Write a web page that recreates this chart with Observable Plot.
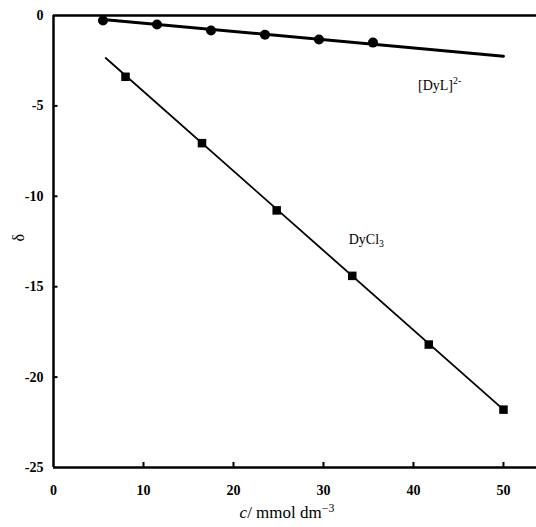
<!DOCTYPE html>
<html>
<head>
<meta charset="utf-8">
<script src="https://cdn.jsdelivr.net/npm/d3@7"></script>
<script src="https://cdn.jsdelivr.net/npm/@observablehq/plot@0.6"></script>
<style>
  html, body { margin: 0; padding: 0; background: #fff; }
  #chart svg { display: block; }
  #chart svg, #chart svg text { font-family: "Liberation Serif", "Times New Roman", serif !important; }
</style>
</head>
<body>
<div id="chart"></div>
<script>
// ---- data ----
const dylX = [5.5, 11.5, 17.5, 23.5, 29.5, 35.5];
const dylY = [-0.28, -0.5, -0.83, -1.06, -1.33, -1.5];
const dycl3X = [8, 16.5, 24.8, 33.2, 41.7, 50];
const dycl3Y = [-3.39, -7.06, -10.78, -14.4, -18.2, -21.8];
const dylFitX = [5.5, 50];
const dylFitY = [-0.22, -2.25];
const dycl3FitX = [5.8, 50];
const dycl3FitY = [-2.35, -21.8];
const xTicks = [0, 10, 20, 30, 40, 50];
const yTicks = [0, -5, -10, -15, -20, -25];
const seriesLabels = ["[DyL]2-", "DyCl3"];
const seriesLabelX = [40.5, 32.8];
const seriesLabelY = [-3.85, -12.4];

const dyl = dylX.map((x, i) => ({x, y: dylY[i]}));
const dycl3 = dycl3X.map((x, i) => ({x, y: dycl3Y[i]}));
const dylFit = dylFitX.map((x, i) => ({x, y: dylFitY[i]}));
const dycl3Fit = dycl3FitX.map((x, i) => ({x, y: dycl3FitY[i]}));
const labels = seriesLabels.map((t, i) => ({t, x: seriesLabelX[i], y: seriesLabelY[i]}));

const font = "Liberation Serif";

const plot = Plot.plot({
  width: 536,
  height: 527,
  marginLeft: 53,
  marginRight: 0,
  marginTop: 15,
  marginBottom: 60,
  style: {fontFamily: font, background: "#fff", color: "#000"},
  x: {domain: [0, 53.67], ticks: xTicks, tickFormat: d => d},
  y: {domain: [-25, 0], ticks: yTicks, tickFormat: d => d},
  marks: [
    Plot.axisX({ticks: xTicks, tickSize: 0, tickPadding: 18, fontSize: 14, fontWeight: "bold", label: null, tickFormat: d => d}),
    Plot.axisY({ticks: yTicks, tickSize: 0, tickPadding: 10, fontSize: 14, fontWeight: "bold", label: null, tickFormat: d => d}),
    // inward ticks
    Plot.ruleX(xTicks.filter(d => d > 0), {x: d => d, y1: -25, y2: -24.72, stroke: "#000", strokeWidth: 2}),
    Plot.ruleY(yTicks.filter(d => d > -25 && d < 0), {y: d => d, x1: 0, x2: 0.5, stroke: "#000", strokeWidth: 2}),
    // frame lines
    Plot.ruleX([0], {stroke: "#000", strokeWidth: 2.5}),
    Plot.ruleY([-25], {stroke: "#000", strokeWidth: 2.5}),
    Plot.ruleY([0], {stroke: "#000", strokeWidth: 2.5}),
    // fits
    Plot.line(dylFit, {x: "x", y: "y", stroke: "#000", strokeWidth: 3}),
    Plot.line(dycl3Fit, {x: "x", y: "y", stroke: "#000", strokeWidth: 1.8}),
    // points
    Plot.dot(dyl, {x: "x", y: "y", r: 5, fill: "#000", stroke: "none", symbol: "circle"}),
    Plot.dot(dycl3, {x: "x", y: "y", r: 4.8, fill: "#000", stroke: "none", symbol: "square"}),
    // series labels
    Plot.text(labels, {x: "x", y: "y", text: "t", textAnchor: "start", fontSize: 14, fill: "#000", className: "series-label"}),
    // axis titles
    Plot.text(["δ"], {frameAnchor: "left", dx: -35, dy: 0, rotate: -90, fontSize: 16, fill: "#000"}),
    Plot.text(["c/ mmol dm-3"], {frameAnchor: "bottom", dx: -8, dy: 50, fontSize: 17, fill: "#000", className: "xtitle"})
  ]
});

// rich text: italic c, superscripts, subscripts
const svg = d3.select(plot);
svg.selectAll(".xtitle text").each(function() {
  const t = d3.select(this);
  t.text(null);
  t.append("tspan").attr("font-style", "italic").text("c");
  t.append("tspan").text("/ mmol dm");
  t.append("tspan").attr("dy", "-0.5em").attr("font-size", "0.7em").text("−3");
});
svg.selectAll(".series-label text").each(function() {
  const t = d3.select(this);
  const s = t.text();
  t.text(null);
  if (s.startsWith("[DyL]")) {
    t.append("tspan").text("[DyL]");
    t.append("tspan").attr("dy", "-0.55em").attr("font-size", "0.7em").text("2-");
  } else {
    t.append("tspan").text("DyCl");
    t.append("tspan").attr("dy", "0.3em").attr("font-size", "0.7em").text("3");
  }
});
svg.selectAll("text").attr("font-family", font).style("font-family", font);
svg.attr("font-family", font);

document.getElementById("chart").appendChild(plot);
</script>
</body>
</html>
